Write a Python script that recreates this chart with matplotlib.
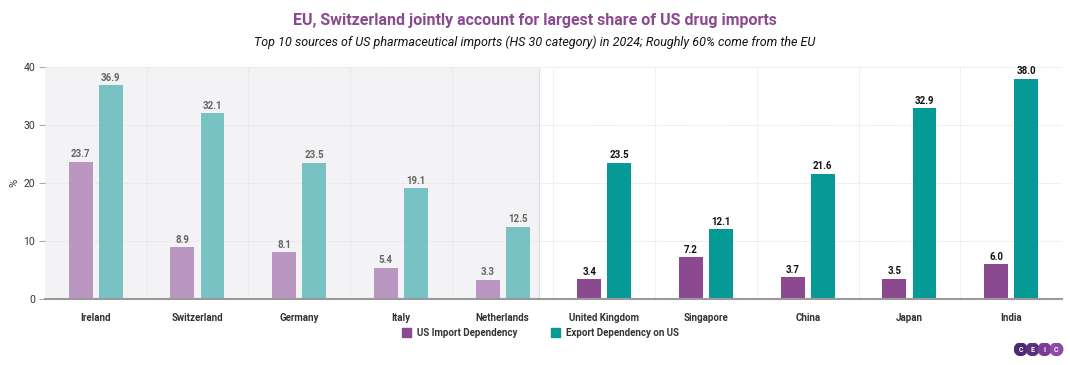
import numpy as np
import matplotlib.pyplot as plt
from matplotlib.patches import Patch, Circle

plt.rcParams['font.family'] = ['Roboto', 'DejaVu Sans']

# --------------------- data ---------------------
countries = ["Ireland", "Switzerland", "Germany", "Italy", "Netherlands",
             "United Kingdom", "Singapore", "China", "Japan", "India"]
import_dep = [23.7, 8.9, 8.1, 5.4, 3.3, 3.4, 7.2, 3.7, 3.5, 6.0]
export_dep = [36.9, 32.1, 23.5, 19.1, 12.5, 23.5, 12.1, 21.6, 32.9, 38.0]
n_eu = 5

PURPLE = "#8b4a8f"
TEAL = "#069a96"
PURPLE_FADE = "#ba97c1"
TEAL_FADE = "#78c2c4"

fig = plt.figure(figsize=(10.7, 3.65), dpi=100)
ax = fig.add_axes([0.042, 0.181, 0.9505, 0.635])

x = np.arange(len(countries))
w = 0.235
off = 0.148

# shaded EU block
ax.axvspan(-0.5, 4.357, color="#f3f3f6", zorder=0)
ax.axvline(4.357, color="#dcdce2", lw=0.8, zorder=0.5)

for i in range(len(countries)):
    eu = i < n_eu
    c1 = PURPLE_FADE if eu else PURPLE
    c2 = TEAL_FADE if eu else TEAL
    lc = "#666666" if eu else "#111111"
    ax.bar(x[i] - off, import_dep[i], w, color=c1, zorder=2)
    ax.bar(x[i] + off, export_dep[i], w, color=c2, zorder=2)
    ax.text(x[i] - off, import_dep[i] + 0.4, f"{import_dep[i]:.1f}", ha="center", va="bottom",
            fontsize=7, fontweight="bold", color=lc, zorder=3)
    ax.text(x[i] + off, export_dep[i] + 0.4, f"{export_dep[i]:.1f}", ha="center", va="bottom",
            fontsize=7, fontweight="bold", color=lc, zorder=3)

ax.set_xlim(-0.5, len(countries) - 0.5)
ax.set_ylim(0, 40)
ax.set_yticks([0, 10, 20, 30, 40])
ax.set_xticks(x)
ax.set_xticklabels(countries, fontsize=7, fontweight="bold", color="#333333")
ax.tick_params(axis="x", length=0, pad=10)
ax.tick_params(axis="y", labelsize=7.5, labelcolor="#333333", length=4, color="#aaaaaa", pad=3)
ax.set_ylabel("%", fontsize=8, color="#333333", labelpad=3)

# grid
for yv in [10, 20, 30, 40]:
    ax.axhline(yv, color="#e2e2e2", lw=0.7, ls=(0, (1, 1)), zorder=1)
for xv in np.arange(0.5, len(countries) - 0.5, 1):
    ax.axvline(xv, color="#e2e2e2", lw=0.7, ls=(0, (1, 1)), zorder=1)

for s in ["top", "right", "left"]:
    ax.spines[s].set_visible(False)
ax.spines["bottom"].set_color("#9a9a9a")
ax.spines["bottom"].set_linewidth(1.5)

# titles
fig.text(0.5, 0.945, "EU, Switzerland jointly account for largest share of US drug imports",
         ha="center", va="center", fontsize=11.5, fontweight="bold", color=PURPLE)
fig.text(0.5, 0.885, "Top 10 sources of US pharmaceutical imports (HS 30 category) in 2024; Roughly 60% come from the EU",
         ha="center", va="center", fontsize=9, style="italic", color="#111111")

# legend
handles = [Patch(color=PURPLE, label="US Import Dependency"),
           Patch(color=TEAL, label="Export Dependency on US")]
leg = fig.legend(handles=handles, loc="center", bbox_to_anchor=(0.505, 0.088), ncol=2,
                 frameon=False, fontsize=7, handlelength=0.9, handleheight=0.9,
                 columnspacing=3.5, handletextpad=0.6)
for t in leg.get_texts():
    t.set_fontweight("bold")
    t.set_color("#333333")

# CEIC logo
lax = fig.add_axes([0.948, 0.013, 0.047, 0.06])
lax.set_xlim(0, 4)
lax.set_ylim(0, 1)
lax.set_aspect("equal")
lax.axis("off")
logo_colors = ["#4a2a6e", "#5b2f80", "#7a3c95", "#8e4aa6"]
for k, ch in enumerate("CEIC"):
    lax.add_patch(Circle((0.5 + k * 0.95, 0.5), 0.5, color=logo_colors[k]))
    lax.text(0.5 + k * 0.95, 0.48, ch, ha="center", va="center", fontsize=5,
             fontweight="bold", color="white")

fig.savefig("out.png", dpi=100)
